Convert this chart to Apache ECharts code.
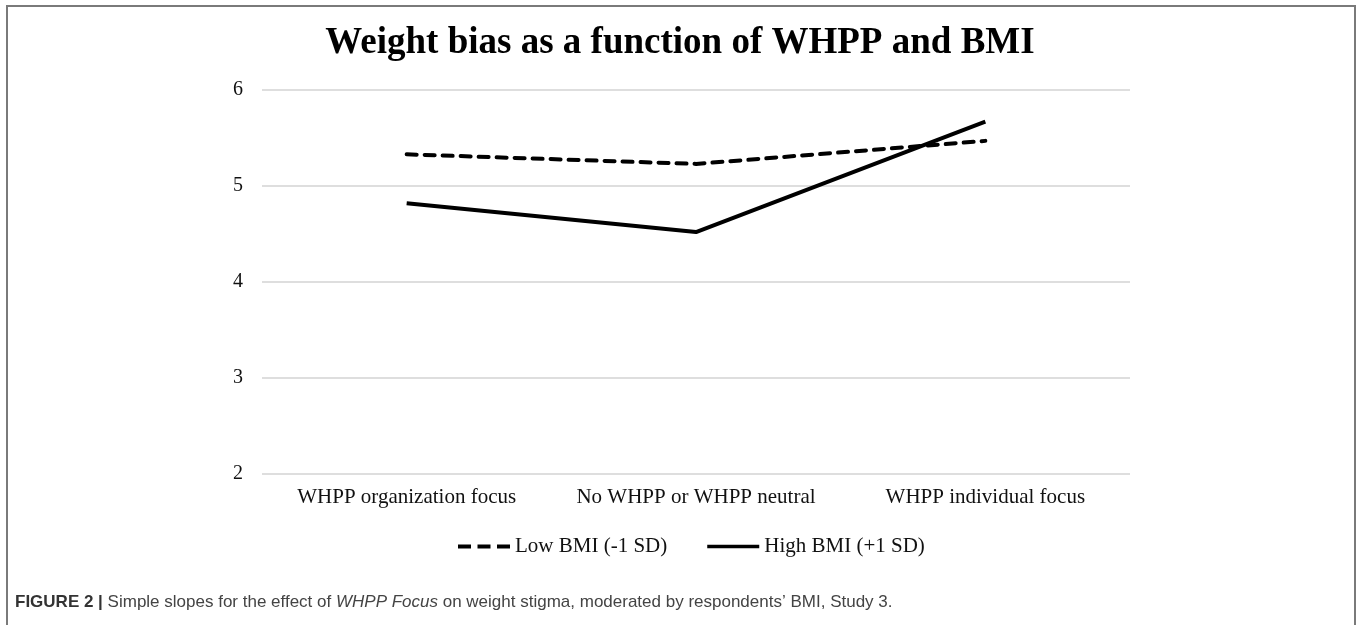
<!DOCTYPE html>
<html>
<head>
<meta charset="utf-8">
<script src="https://cdn.jsdelivr.net/npm/echarts@6/dist/echarts.min.js"></script>
<style>
html,body{margin:0;padding:0;background:#fff;}
#chart{width:1357px;height:625px;}
</style>
</head>
<body>
<div id="chart"></div>
<script>
const categories = ['WHPP organization focus', 'No WHPP or WHPP neutral', 'WHPP individual focus'];
const lowBMI = [5.33, 5.23, 5.47];
const highBMI = [4.82, 4.52, 5.67];
const seriesNames = ['Low BMI (-1 SD)', 'High BMI (+1 SD)'];
const yTicks = [2, 3, 4, 5, 6];

const chart = echarts.init(document.getElementById('chart'));
const serif = '"Liberation Serif", "Times New Roman", serif';
const sans = '"Liberation Sans", Arial, sans-serif';
chart.setOption({
  backgroundColor: '#ffffff',
  animation: false,
  title: [{
    text: 'Weight bias as a function of WHPP and BMI',
    left: 675, top: 20, textAlign: 'center',
    textStyle: { fontFamily: serif, fontWeight: 'bold', fontSize: 37, color: '#000' }
  }, {
    text: '{b|FIGURE 2 | }{n|Simple slopes for the effect of }{i|WHPP Focus}{n| on weight stigma, moderated by respondents\u2019 BMI, Study 3.}',
    left: 10, top: 589,
    textStyle: {
      fontWeight: 'normal',
      rich: {
        b: { fontFamily: sans, fontWeight: 'bold', fontSize: 17, color: '#333' },
        n: { fontFamily: sans, fontWeight: 'normal', fontSize: 17, color: '#444' },
        i: { fontFamily: sans, fontWeight: 'normal', fontStyle: 'italic', fontSize: 17, color: '#444' }
      }
    }
  }],
  graphic: [{
    type: 'polyline',
    shape: { points: [[7, 625], [7, 6], [1355, 6], [1355, 625]] },
    style: { stroke: '#7a7a7a', lineWidth: 2, fill: null }
  }],
  legend: {
    data: [
      { name: seriesNames[0], icon: 'path://M0,0h13v4h-13z M19.5,0h13v4h-13z M39,0h13v4h-13z' },
      { name: seriesNames[1], icon: 'path://M0,0h56v4h-56z' }
    ],
    left: 453, top: 531,
    itemWidth: 52, itemHeight: 4, itemGap: 40,
    textStyle: { fontFamily: serif, fontSize: 21, color: '#111' }
  },
  grid: { left: 262, right: 227, top: 90, bottom: 151, containLabel: false },
  xAxis: {
    type: 'category',
    data: categories,
    boundaryGap: true,
    axisLine: { show: false },
    axisTick: { show: false },
    axisLabel: { interval: 0, fontFamily: serif, fontSize: 21, color: '#111', margin: 13 }
  },
  yAxis: {
    type: 'value',
    min: yTicks[0], max: yTicks[yTicks.length - 1], interval: 1,
    axisLine: { show: false },
    axisTick: { show: false },
    axisLabel: { fontFamily: serif, fontSize: 20, color: '#111', margin: 19 },
    splitLine: { lineStyle: { color: '#dedede', width: 2 } }
  },
  series: [{
    name: seriesNames[0],
    type: 'line',
    data: lowBMI,
    symbol: 'none',
    lineStyle: { color: '#000', width: 4, type: [10, 8], cap: 'round' },
    itemStyle: { color: '#000' }
  }, {
    name: seriesNames[1],
    type: 'line',
    data: highBMI,
    symbol: 'none',
    lineStyle: { color: '#000', width: 4, type: 'solid' },
    itemStyle: { color: '#000' }
  }]
});
</script>
</body>
</html>
